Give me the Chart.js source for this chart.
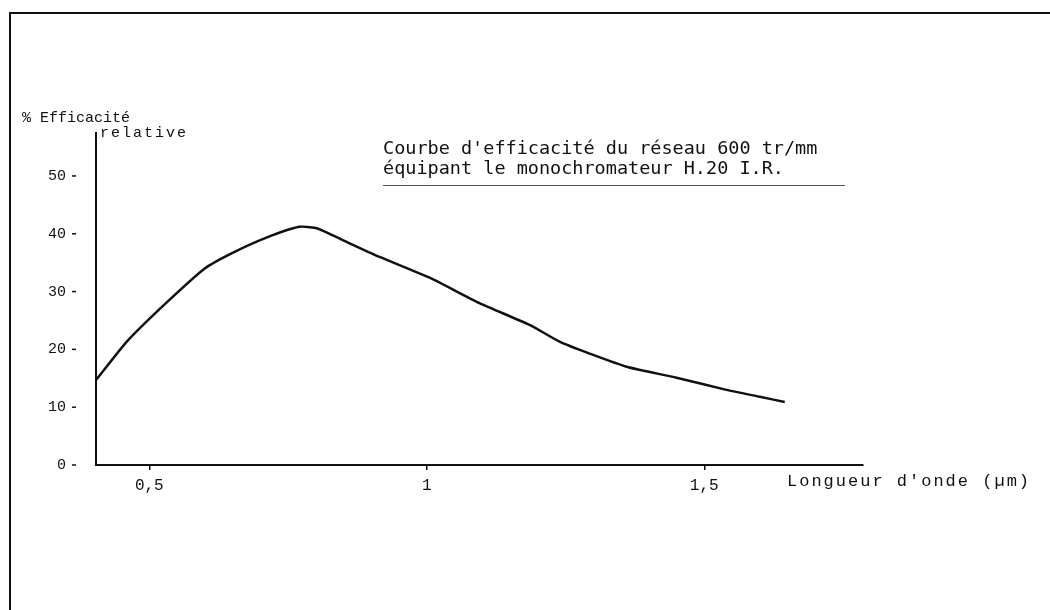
<!DOCTYPE html>
<html>
<head>
<meta charset="utf-8">
<script src="https://cdn.jsdelivr.net/npm/chart.js@4"></script>
<style>
  html, body { margin: 0; padding: 0; background: #fff; }
  #wrap { width: 1050px; height: 610px; }
</style>
</head>
<body>
<div id="wrap"><canvas id="effChart" width="1050" height="610"></canvas></div>
<script>
// wavelength (µm) and relative efficiency (%)
const wavelength = [0.404, 0.46, 0.53, 0.60, 0.65, 0.71, 0.77, 0.80, 0.825, 0.86, 0.915, 1.005, 1.095, 1.186, 1.24, 1.29, 1.36, 1.45, 1.54, 1.60, 1.645];
const efficiency = [14.7, 21.4, 28.0, 34.0, 36.7, 39.3, 41.2, 41.0, 40.0, 38.4, 36.0, 32.4, 28.0, 24.2, 21.3, 19.4, 17.0, 15.1, 13.0, 11.8, 10.9];

const xTicks = [0.5, 1, 1.5];
const yTicks = [0, 10, 20, 30, 40, 50];

const titleLines = ["Courbe d'efficacité du réseau 600 tr/mm", "équipant le monochromateur H.20 I.R."];
const yLabel = ["% Efficacité", "relative"];
const xLabel = "Longueur d'onde (µm)";

const INK = "#111";

// frame, title, axis labels and little y dashes
const decor = {
  id: "decor",
  afterDraw(chart) {
    const ctx = chart.ctx;
    const y = chart.scales.y;
    ctx.save();
    ctx.strokeStyle = INK;
    ctx.lineWidth = 2;
    ctx.beginPath();
    ctx.moveTo(10, 610);
    ctx.lineTo(10, 13);
    ctx.lineTo(1050, 13);
    ctx.stroke();

    ctx.lineWidth = 1.5;
    yTicks.forEach(v => {
      const py = y.getPixelForValue(v);
      ctx.beginPath();
      ctx.moveTo(72, py);
      ctx.lineTo(76, py);
      ctx.stroke();
    });

    ctx.fillStyle = INK;
    ctx.textBaseline = "alphabetic";
    ctx.font = "18.5px 'DejaVu Sans Mono'";
    ctx.fillText(titleLines[0], 383, 154);
    ctx.fillText(titleLines[1], 383, 174);

    ctx.strokeStyle = "#555";
    ctx.lineWidth = 1;
    ctx.beginPath();
    ctx.moveTo(383, 185.5);
    ctx.lineTo(845, 185.5);
    ctx.stroke();

    ctx.font = "15px 'Liberation Mono'";
    ctx.fillText(yLabel[0], 22, 122);
    ctx.letterSpacing = "2px";
    ctx.fillText(yLabel[1], 100, 137);

    ctx.font = "17px 'Liberation Mono'";
    ctx.letterSpacing = "2px";
    ctx.fillText(xLabel, 787, 486);
    ctx.restore();
  }
};

new Chart(document.getElementById("effChart"), {
  type: "line",
  data: {
    datasets: [{
      data: wavelength.map((w, i) => ({ x: w, y: efficiency[i] })),
      borderColor: INK,
      borderWidth: 2.5,
      pointRadius: 0,
      tension: 0.2,
      fill: false
    }]
  },
  options: {
    responsive: false,
    animation: false,
    layout: { padding: { left: 0, top: 132.6, right: 187, bottom: 105 } },
    plugins: { legend: { display: false }, tooltip: { enabled: false } },
    scales: {
      x: {
        type: "linear",
        min: 0.404,
        max: 1.786,
        afterBuildTicks: s => { s.ticks = xTicks.map(v => ({ value: v })); },
        afterFit: s => { s.height = 40; },
        border: { display: true, color: INK, width: 2 },
        grid: { drawOnChartArea: false, drawTicks: true, tickLength: 5, color: INK, lineWidth: 1.5 },
        ticks: {
          color: INK,
          padding: 6,
          font: { family: "Liberation Mono", size: 16 },
          callback: v => String(v).replace(".", ",")
        }
      },
      y: {
        min: 0,
        max: 57.5,
        afterBuildTicks: s => { s.ticks = yTicks.map(v => ({ value: v })); },
        afterFit: s => { s.width = 96; },
        border: { display: true, color: INK, width: 2 },
        grid: { drawOnChartArea: false, drawTicks: false },
        ticks: {
          color: INK,
          padding: 30,
          font: { family: "Liberation Mono", size: 15 }
        }
      }
    }
  },
  plugins: [decor]
});
</script>
</body>
</html>
